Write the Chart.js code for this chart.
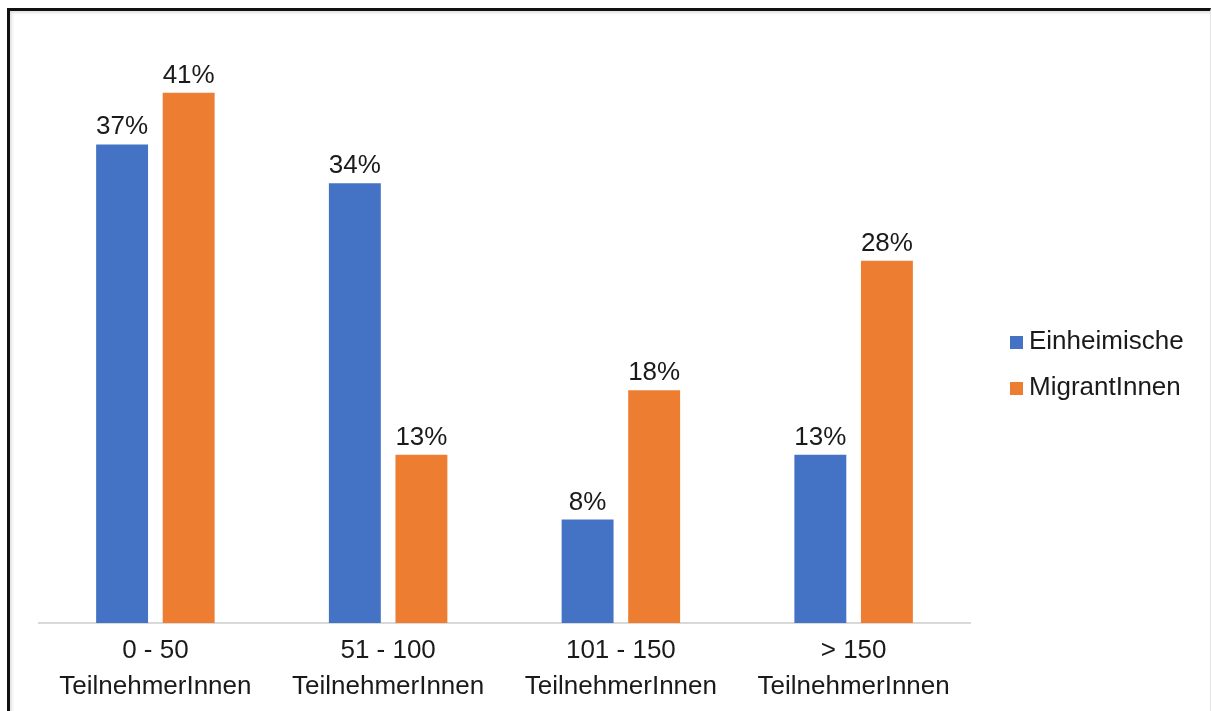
<!DOCTYPE html>
<html>
<head>
<meta charset="utf-8">
<script src="https://cdn.jsdelivr.net/npm/chart.js@4"></script>
<style>
  html, body { margin: 0; padding: 0; background: #fff; }
  #wrap { position: relative; width: 1212px; height: 711px; overflow: hidden; }
  #frame {
    position: absolute; left: 7px; top: 8px; width: 1200px; height: 720px;
    border-top: 3px solid #111; border-left: 3px solid #111; border-right: 1px solid #e4e4e4;
    box-shadow: inset 2px 2px 3px rgba(0,0,0,0.12);
    pointer-events: none;
  }
  canvas { position: absolute; left: 0; top: 0; }
</style>
</head>
<body>
<div id="wrap">
  <canvas id="c" width="1212" height="711"></canvas>
  <div id="frame"></div>
</div>
<script>
const categories = [
  ['0 - 50', 'TeilnehmerInnen'],
  ['51 - 100', 'TeilnehmerInnen'],
  ['101 - 150', 'TeilnehmerInnen'],
  ['> 150', 'TeilnehmerInnen']
];
const seriesNames = ['Einheimische', 'MigrantInnen'];
const einheimische = [37, 34, 8, 13];
const migrantinnen = [41, 13, 18, 28];
const seriesColors = ['#4472C4', '#ED7D31'];

const FONT = "'Liberation Sans', Arial, Helvetica, sans-serif";

// Percent labels above each bar
const valueLabels = {
  id: 'valueLabels',
  afterDatasetsDraw(chart) {
    const ctx = chart.ctx;
    ctx.save();
    ctx.font = '26px ' + FONT;
    ctx.fillStyle = '#1a1a1a';
    ctx.textAlign = 'center';
    ctx.textBaseline = 'alphabetic';
    chart.data.datasets.forEach((ds, i) => {
      chart.getDatasetMeta(i).data.forEach((bar, j) => {
        ctx.fillText(ds.data[j] + '%', bar.x, bar.y - 10);
      });
    });
    ctx.restore();
  }
};

// Legend at the right, square markers with series names
const sideLegend = {
  id: 'sideLegend',
  afterDraw(chart) {
    const ctx = chart.ctx;
    ctx.save();
    ctx.font = '26px ' + FONT;
    ctx.textBaseline = 'middle';
    ctx.textAlign = 'left';
    chart.data.datasets.forEach((ds, i) => {
      const y = 342 + i * 46;
      ctx.fillStyle = ds.backgroundColor;
      ctx.fillRect(1010, y - 6, 13, 13);
      ctx.fillStyle = '#1a1a1a';
      ctx.fillText(ds.label, 1029, y);
    });
    ctx.restore();
  }
};

new Chart(document.getElementById('c'), {
  type: 'bar',
  data: {
    labels: categories,
    datasets: [
      { label: seriesNames[0], data: einheimische, backgroundColor: seriesColors[0] },
      { label: seriesNames[1], data: migrantinnen, backgroundColor: seriesColors[1] }
    ]
  },
  options: {
    responsive: false,
    animation: false,
    devicePixelRatio: 1,
    layout: { padding: { left: 39, right: 242, top: 41, bottom: -4 } },
    datasets: { bar: { categoryPercentage: 0.572, barPercentage: 0.78 } },
    plugins: { legend: { display: false }, tooltip: { enabled: false } },
    scales: {
      x: {
        grid: { display: false, drawTicks: false },
        border: { display: true, color: '#d9d9d9', width: 2 },
        ticks: { color: '#1a1a1a', font: { family: FONT, size: 26, lineHeight: 1.385 }, padding: 10, maxRotation: 0 }
      },
      y: { display: false, min: 0, max: 45 }
    }
  },
  plugins: [valueLabels, sideLegend]
});
</script>
</body>
</html>
